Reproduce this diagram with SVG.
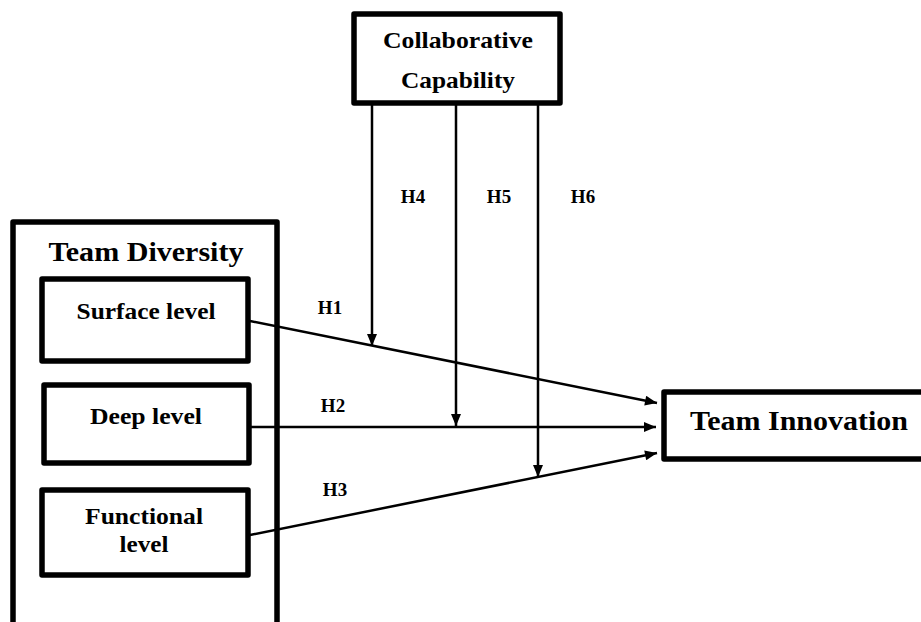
<svg xmlns="http://www.w3.org/2000/svg" width="921" height="622" viewBox="0 0 921 622">
<style>
.box{fill:#fff;stroke:#000;stroke-width:5.5;stroke-linejoin:round}
.t{font-family:"Liberation Serif","Times New Roman",serif;font-weight:bold;fill:#000;text-anchor:middle}
.lbl{font-size:23px}
.big{font-size:27px}
.h{font-size:19px}
.con{stroke:#000;stroke-width:2.5;fill:none;marker-end:url(#arr)}
</style>
<defs>
<marker id="arr" viewBox="0 0 12 10" refX="12" refY="5" markerWidth="13" markerHeight="10" markerUnits="userSpaceOnUse" orient="auto">
<path d="M0,0 L12,5 L0,10 z" fill="#000"/>
</marker>
</defs>
<rect width="921" height="622" fill="#fff"/>
<g id="team-diversity">
<rect class="box" x="13" y="222" width="264" height="430" stroke-width="6"/>
<text class="t big" x="146" y="261" textLength="195" lengthAdjust="spacingAndGlyphs">Team Diversity</text>
</g>
<g id="surface-level">
<rect class="box" x="42" y="279" width="206" height="82"/>
<text class="t lbl" x="146" y="319" textLength="139" lengthAdjust="spacingAndGlyphs">Surface level</text>
</g>
<g id="deep-level">
<rect class="box" x="44" y="385" width="205" height="78"/>
<text class="t lbl" x="146" y="424" textLength="112" lengthAdjust="spacingAndGlyphs">Deep level</text>
</g>
<g id="functional-level">
<rect class="box" x="42" y="490" width="206" height="85"/>
<text class="t lbl" x="144" y="524" textLength="118" lengthAdjust="spacingAndGlyphs">Functional</text>
<text class="t lbl" x="144" y="552" textLength="49" lengthAdjust="spacingAndGlyphs">level</text>
</g>
<g id="collaborative-capability">
<rect class="box" x="354" y="14" width="206" height="89"/>
<text class="t lbl" x="458" y="48" textLength="150" lengthAdjust="spacingAndGlyphs">Collaborative</text>
<text class="t lbl" x="458" y="88" textLength="114" lengthAdjust="spacingAndGlyphs">Capability</text>
</g>
<g id="team-innovation">
<rect class="box" x="664" y="392" width="280" height="67"/>
<text class="t big" x="799" y="430" textLength="218" lengthAdjust="spacingAndGlyphs">Team Innovation</text>
</g>
<g id="connectors">
<path class="con" d="M250,321 L657,403"/>
<path class="con" d="M250,427 L656,427"/>
<path class="con" d="M250,535 L657,453"/>
<path class="con" d="M372,105 L372,346"/>
<path class="con" d="M456,105 L456,426"/>
<path class="con" d="M538,105 L538,477"/>
<text class="t h" x="330" y="314">H1</text>
<text class="t h" x="333" y="412">H2</text>
<text class="t h" x="335" y="496">H3</text>
<text class="t h" x="413" y="203">H4</text>
<text class="t h" x="499" y="203">H5</text>
<text class="t h" x="583" y="203">H6</text>
</g>
</svg>
